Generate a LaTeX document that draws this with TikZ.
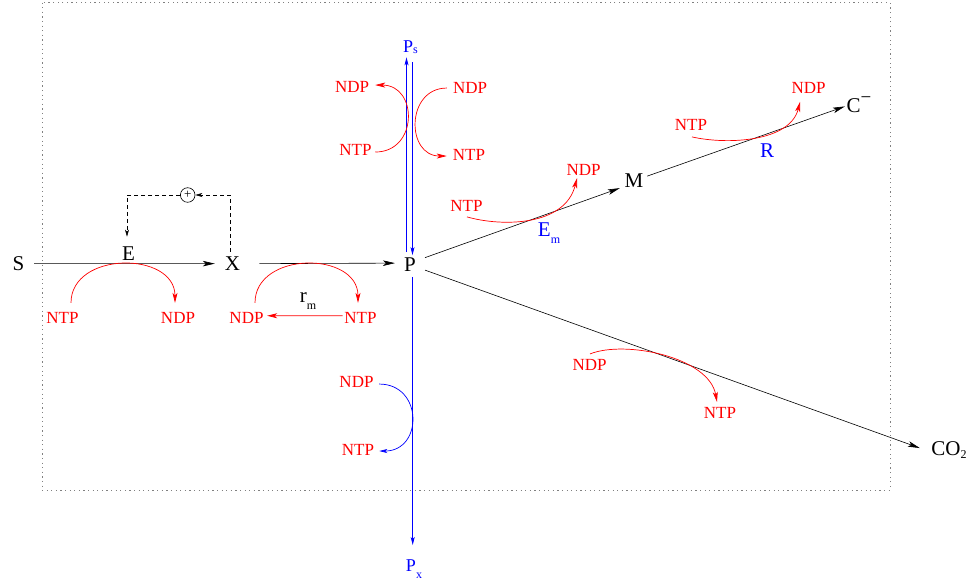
\documentclass[tikz,border=0pt]{standalone}
\usepackage{fontspec}
\setmainfont{Liberation Serif}
\usetikzlibrary{arrows.meta}
\newcommand{\low}[2][7pt]{\raisebox{-#1}{\fontsize{12}{12}\selectfont #2}}

\begin{document}
\begin{tikzpicture}[x=1pt,y=-1pt,
		every node/.style={inner sep=0pt},
		lab/.style={font=\fontsize{21}{21}\selectfont,anchor=base},
		sublab/.style={font=\fontsize{18}{18}\selectfont,anchor=base,text=blue},
		nuc/.style={text=red,font=\fontsize{17}{17}\selectfont,anchor=base},
		flux/.style={line width=0.6pt,-{Stealth[length=12pt,width=5.5pt,inset=3pt]}},
		redarr/.style={draw=red,line width=0.7pt,-{Stealth[length=10pt,width=5pt,inset=2.5pt]}},
		bluearr/.style={draw=blue,line width=0.7pt,-{Stealth[length=8pt,width=4pt,inset=2pt]}},
		feedback/.style={dash pattern=on 4pt off 3pt,line width=0.6pt,-{Stealth[length=7pt,width=4pt,inset=2pt]}}]
		\useasboundingbox (0,0) rectangle (972,581);
		\draw[gray,line width=1pt,dash pattern=on 1.2pt off 3.4pt] (42,2.5) rectangle (890,490);
		
		\node[lab] (s) at (18.5,270) {S};
		\node[lab] (e) at (128.5,260) {E};
		\node[lab] (x) at (232.5,270) {X};
		\node[lab] (p) at (410,271) {P};
		\node[lab] (m) at (634,187) {M};
		\node[lab] (c) at (859,112) {C\raisebox{9pt}{\fontsize{19}{19}\selectfont −}};
		\node[lab] (co2) at (949,455) {CO\low[3pt]{2}};
		\node[lab] (rm) at (308,302) {r\low{m}};
		\node[lab,text=blue] (em) at (549,236) {E\low{m}};
		\node[lab,text=blue] (r) at (767,157) {R};
		\node[sublab] (ps) at (410.5,52) {P\low[1.5pt]{s}};
		\node[sublab] (px) at (414,571) {P\low{x}};
		\node[circle,draw,line width=0.6pt,minimum size=14.6pt,font=\fontsize{13}{13}\selectfont] (plus) at (187.7,195) {+};
		
		\node[nuc] (ntp1) at (62.5,323) {NTP};
		\node[nuc] (ndp1) at (178,323) {NDP};
		\node[nuc] (ndp2) at (246.5,323) {NDP};
		\node[nuc] (ntp2) at (360.5,323) {NTP};
		\node[nuc] (ndp3) at (352,92.7) {NDP};
		\node[nuc] (ntp3) at (355.5,155) {NTP};
		\node[nuc] (ndp4) at (470,93) {NDP};
		\node[nuc] (ntp4) at (469,160) {NTP};
		\node[nuc] (ndp5) at (356.5,387) {NDP};
		\node[nuc] (ntp5) at (358,455) {NTP};
		\node[nuc] (ntp6) at (466.5,211) {NTP};
		\node[nuc] (ndp6) at (583.5,175) {NDP};
		\node[nuc] (ntp7) at (691,130) {NTP};
		\node[nuc] (ndp7) at (808.5,93) {NDP};
		\node[nuc] (ndp8) at (589.5,370) {NDP};
		\node[nuc] (ntp8) at (720,418) {NTP};
		
		% main fluxes
		\draw[flux] ([shift={(9.7,0.5)}]s.east) -- ([shift={(-9.9,0.5)}]x.west);
		\draw[flux] ([shift={(19,0.5)}]x.east) -- ([xshift=-9pt]p.west |- x.east);
		\draw[flux] ([shift={(9,-6.5)}]p.east) -- ([shift={(-4.7,8)}]m.west);
		\draw[flux] ([shift={(3.7,-4)}]m.east) -- ([shift={(-1.6,2.2)}]c.west);
		\draw[flux] ([shift={(9,6)}]p.east) -- ([shift={(-11.4,-1.5)}]co2.west);
		\draw[bluearr] ([shift={(-3.5,-5)}]p.north) -- ([shift={(-4,3.5)}]ps.south);
		\draw[bluearr] ([shift={(2,8.5)}]ps.south) -- ([shift={(2.5,-2)}]p.north);
		\draw[bluearr] ([shift={(2.7,5.7)}]p.south) -- ([shift={(-1.3,-14)}]px.north);
		
		% activation of E by X
		\draw[feedback] ([shift={(-2.5,-4.1)}]x.north) |- (plus.east);
		\draw[feedback] (plus.west) -| ([shift={(-1.5,-9.4)}]e.north);
		
		% coupled nucleotide reactions
		\draw[redarr] ([shift={(8.5,-8.75)}]ntp1.north) .. controls +(0,-52) and +(0,-52) .. ([shift={(-3,-8.75)}]ndp1.north);
		\draw[redarr] ([shift={(8.5,-8.75)}]ndp2.north) .. controls +(0,-52) and +(0,-52) .. ([shift={(-2.5,-8.75)}]ntp2.north);
		\draw[redarr] ([shift={(-1.5,-1.7)}]ntp2.west) -- ([shift={(3.5,-1.7)}]ndp2.east);
		\draw[redarr] ([shift={(3.5,2.6)}]ntp3.east) .. controls +(43,0) and +(43,0) .. ([shift={(6,-2.1)}]ndp3.east);
		\draw[redarr] ([shift={(-6,0.6)}]ndp4.west) .. controls +(-41,0) and +(-41,0) .. ([shift={(-6,1.6)}]ntp4.west);
		\draw[bluearr] ([shift={(5.5,2.6)}]ndp5.east) .. controls +(44,0) and +(44,0) .. ([shift={(5,1.6)}]ntp5.east);
		\draw[redarr] ([shift={(0.5,5.7)}]ntp6.south) .. controls +(35,10) and +(-12,48) .. ([shift={(-6.5,3)}]ndp6.south);
		\draw[redarr] ([shift={(1,6.7)}]ntp7.south) .. controls +(35,8) and +(-10,40) .. ([shift={(-8.5,8.7)}]ndp7.south);
		\draw[redarr] ([shift={(0.5,-4.75)}]ndp8.north) .. controls +(35,-14) and +(-8,-45) .. ([shift={(-3,-4.75)}]ntp8.north);
	\end{tikzpicture}
\end{document}
